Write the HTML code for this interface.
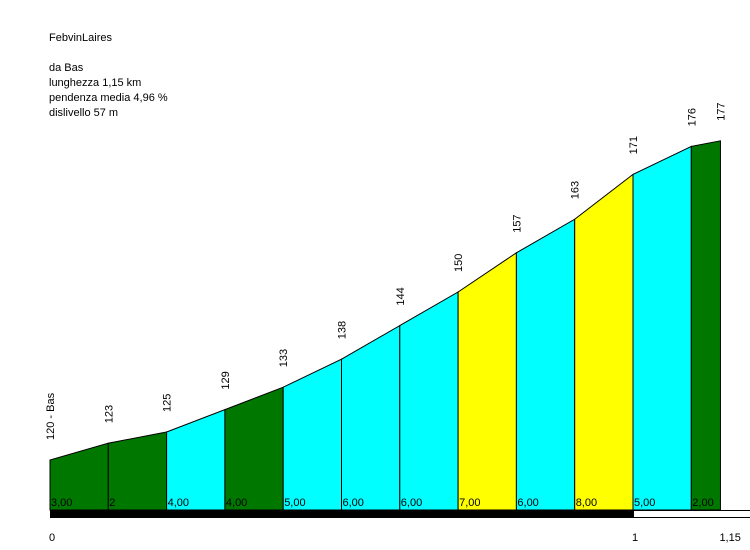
<!DOCTYPE html>
<html><head><meta charset="utf-8">
<style>
html,body{margin:0;padding:0;background:#fff;}
svg{display:block;font-family:"Liberation Sans",Arial,sans-serif;}
text{font-size:11px;fill:#000;}
</style></head>
<body>
<svg id="chart" width="750" height="550" viewBox="0 0 750 550" xmlns="http://www.w3.org/2000/svg">
  <rect width="750" height="550" fill="#fff"/>
  <g>
    <text x="49" y="41">FebvinLaires</text>
    <text x="49" y="71">da Bas</text>
    <text x="49" y="86">lunghezza 1,15 km</text>
    <text x="49" y="101">pendenza media 4,96 %</text>
    <text x="49" y="116">dislivello 57 m</text>
  </g>
  <g id="segments"></g>
  <g id="elevLabels"></g>
  <g id="gradLabels"></g>
  <rect x="50" y="510" width="583" height="8" fill="#000"/>
  <rect x="633.5" y="510.5" width="117" height="7" fill="#fff" stroke="#000" stroke-width="1"/>
  <g id="xTicks"></g>
</svg>
<script>
const distances = [0,0.1,0.2,0.3,0.4,0.5,0.6,0.7,0.8,0.9,1.0,1.1,1.15];
const elevations = [120,123,125,129,133,138,144,150,157,163,171,176,177];
const elevationLabels = ["120 - Bas","123","125","129","133","138","144","150","157","163","171","176","177"];
const gradientLabels = ["3,00","2","4,00","4,00","5,00","6,00","6,00","7,00","6,00","8,00","5,00","2,00"];
const segmentColors = ["#007800","#007800","#00ffff","#007800","#00ffff","#00ffff","#00ffff","#ffff00","#00ffff","#ffff00","#00ffff","#007800"];
const xTickValues = [0,1,1.15];
const xTickLabels = ["0","1","1,15"];

const NS="http://www.w3.org/2000/svg";
const xS = d => 50 + d*583;
const yS = e => 460 - (e-120)*5.6;
const baseY = 510;
const segG=document.getElementById('segments');
const elG=document.getElementById('elevLabels');
const grG=document.getElementById('gradLabels');
const xtG=document.getElementById('xTicks');

for(let i=0;i<distances.length-1;i++){
  const x0=xS(distances[i]), x1=xS(distances[i+1]);
  const y0=yS(elevations[i]), y1=yS(elevations[i+1]);
  const p=document.createElementNS(NS,'polygon');
  p.setAttribute('points',`${x0},${baseY} ${x0},${y0} ${x1},${y1} ${x1},${baseY}`);
  p.setAttribute('fill',segmentColors[i]);
  p.setAttribute('stroke','#000');
  p.setAttribute('stroke-width','1');
  
  
  segG.appendChild(p);
  const t=document.createElementNS(NS,'text');
  t.setAttribute('x',x0+1);
  t.setAttribute('y',506);
  t.textContent=gradientLabels[i];
  
  
  grG.appendChild(t);
}
for(let i=0;i<distances.length;i++){
  const x=xS(distances[i]), y=yS(elevations[i]);
  const t=document.createElementNS(NS,'text');
  t.setAttribute('transform',`translate(${x+4},${y-20}) rotate(-90)`);
  t.textContent=elevationLabels[i];
  
  
  elG.appendChild(t);
}
for(let i=0;i<xTickValues.length;i++){
  const t=document.createElementNS(NS,'text');
  t.setAttribute('x',xS(xTickValues[i])-1);
  t.setAttribute('y',541);
  t.textContent=xTickLabels[i];
  
  
  xtG.appendChild(t);
}
</script>
</body></html>
